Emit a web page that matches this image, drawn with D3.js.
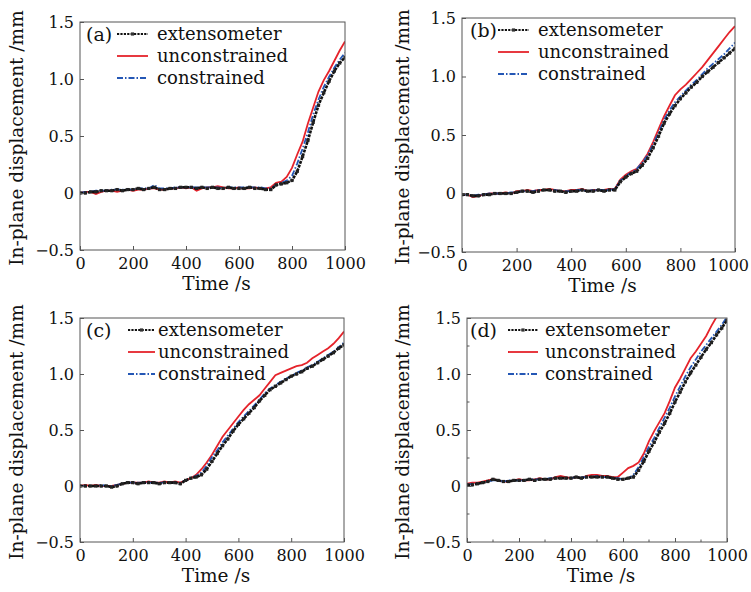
<!DOCTYPE html>
<html>
<head>
<meta charset="utf-8">
<script src="https://cdn.jsdelivr.net/npm/d3@7"></script>
<style>
  html, body { margin: 0; padding: 0; background: #fff; }
  svg text { font-family: "DejaVu Serif", serif; fill: #111; }
</style>
</head>
<body>
<svg id="fig" width="751" height="592"></svg>
<script>
// time samples (s), shared by every series
const times = [0,20,40,60,80,100,120,140,160,180,200,220,240,260,280,300,320,340,360,380,400,420,440,460,480,500,520,540,560,580,600,620,640,660,680,700,720,740,760,780,800,820,840,860,880,900,920,940,960,980,1000]

const xTicks = [0,200,400,600,800,1000]
const yTicks = [-0.5,0,0.5,1.0,1.5]
const yTickLabels = ["\u22120.5","0","0.5","1.0","1.5"]
const seriesNames = ["extensometer","unconstrained","constrained"]

// (a)
const extA = [0.00,0.00,0.01,0.01,0.02,0.02,0.02,0.03,0.02,0.03, 0.03,0.04,0.03,0.04,0.05,0.03,0.03,0.04,0.04,0.05, 0.05,0.05,0.04,0.05,0.04,0.05,0.04,0.04,0.05,0.04, 0.04,0.04,0.05,0.04,0.04,0.03,0.03,0.07,0.08,0.09, 0.11,0.19,0.32,0.46,0.62,0.77,0.88,0.98,1.07,1.14, 1.19]
const redA = [0.00,0.01,0.01,-0.01,0.01,0.02,0.02,0.01,0.02,0.03, 0.02,0.03,0.03,0.04,0.04,0.03,0.03,0.04,0.04,0.05, 0.04,0.05,0.02,0.04,0.05,0.05,0.06,0.05,0.04,0.04, 0.05,0.04,0.04,0.05,0.04,0.04,0.05,0.09,0.10,0.14, 0.22,0.34,0.45,0.61,0.75,0.89,0.99,1.07,1.16,1.25, 1.33]
const blueA = [0.00,0.01,0.01,0.02,0.02,0.02,0.03,0.03,0.03,0.03, 0.03,0.04,0.04,0.04,0.07,0.04,0.04,0.04,0.05,0.05, 0.05,0.05,0.05,0.05,0.05,0.05,0.05,0.04,0.05,0.05, 0.05,0.05,0.05,0.05,0.05,0.04,0.04,0.07,0.09,0.11, 0.15,0.26,0.39,0.53,0.69,0.82,0.93,1.02,1.10,1.17, 1.23]

// (b)
const extB = [-0.01,-0.01,-0.02,-0.02,-0.01,-0.01,0.00,0.00,0.00,0.00, 0.01,0.02,0.02,0.01,0.02,0.03,0.03,0.02,0.02,0.01, 0.02,0.02,0.03,0.02,0.02,0.03,0.02,0.03,0.03,0.10, 0.14,0.17,0.19,0.24,0.30,0.39,0.49,0.60,0.68,0.75, 0.81,0.86,0.91,0.95,1.00,1.04,1.08,1.12,1.16,1.20, 1.24]
const redB = [-0.01,-0.01,-0.03,-0.02,-0.01,0.00,0.00,0.00,0.01,0.00, 0.02,0.02,0.03,0.02,0.03,0.03,0.04,0.03,0.02,0.02, 0.03,0.03,0.04,0.02,0.03,0.03,0.03,0.04,0.04,0.12, 0.16,0.19,0.21,0.27,0.34,0.44,0.55,0.66,0.75,0.84, 0.89,0.93,0.98,1.03,1.08,1.14,1.20,1.26,1.32,1.38, 1.43]
const blueB = [-0.01,-0.01,-0.02,-0.01,-0.01,0.00,0.00,0.00,0.00,0.01, 0.01,0.02,0.02,0.02,0.03,0.03,0.03,0.03,0.02,0.02, 0.02,0.03,0.03,0.02,0.03,0.03,0.03,0.03,0.04,0.11, 0.15,0.18,0.21,0.26,0.33,0.42,0.52,0.63,0.71,0.78, 0.83,0.88,0.93,0.97,1.02,1.07,1.11,1.15,1.19,1.24, 1.29]

// (c)
const extC = [0.00,0.00,0.00,0.00,0.00,0.00,-0.01,0.00,0.02,0.03, 0.03,0.02,0.03,0.03,0.03,0.02,0.03,0.03,0.03,0.02, 0.05,0.07,0.08,0.10,0.15,0.22,0.29,0.36,0.42,0.49, 0.55,0.60,0.65,0.70,0.76,0.81,0.86,0.89,0.92,0.95, 0.98,1.00,1.02,1.05,1.07,1.10,1.13,1.16,1.19,1.23, 1.26]
const redC = [0.00,0.01,0.00,0.01,0.00,0.00,0.00,0.01,0.02,0.03, 0.03,0.03,0.03,0.04,0.03,0.03,0.04,0.03,0.04,0.03, 0.05,0.07,0.10,0.15,0.21,0.28,0.36,0.44,0.50,0.56, 0.62,0.68,0.73,0.77,0.81,0.87,0.93,0.99,1.01,1.03, 1.05,1.07,1.08,1.10,1.14,1.17,1.20,1.23,1.27,1.32, 1.38]
const blueC = [0.00,0.00,0.00,0.00,0.01,0.00,0.00,0.01,0.02,0.03, 0.03,0.03,0.03,0.03,0.03,0.03,0.03,0.03,0.03,0.03, 0.05,0.07,0.09,0.12,0.18,0.26,0.32,0.39,0.45,0.51, 0.57,0.62,0.67,0.72,0.77,0.83,0.87,0.90,0.93,0.96, 0.98,1.01,1.03,1.06,1.08,1.11,1.14,1.17,1.20,1.24, 1.28]

// (d)
const extD = [0.01,0.01,0.02,0.03,0.04,0.06,0.05,0.04,0.04,0.05, 0.05,0.05,0.06,0.05,0.06,0.06,0.06,0.07,0.07,0.07, 0.07,0.08,0.07,0.08,0.08,0.08,0.08,0.08,0.07,0.06, 0.06,0.07,0.08,0.14,0.22,0.31,0.39,0.48,0.56,0.65, 0.75,0.84,0.93,1.01,1.08,1.15,1.22,1.28,1.35,1.41, 1.48]
const redD = [0.02,0.03,0.03,0.04,0.05,0.06,0.05,0.04,0.04,0.05, 0.06,0.05,0.05,0.06,0.07,0.06,0.06,0.08,0.09,0.08, 0.07,0.08,0.07,0.09,0.10,0.10,0.09,0.09,0.08,0.08, 0.12,0.16,0.18,0.21,0.29,0.40,0.49,0.57,0.65,0.76, 0.88,0.96,1.05,1.14,1.20,1.27,1.34,1.43,1.51,1.58, 1.65]
const blueD = [0.01,0.02,0.02,0.03,0.04,0.05,0.05,0.04,0.05,0.05, 0.05,0.05,0.06,0.06,0.06,0.06,0.07,0.07,0.07,0.07, 0.07,0.08,0.08,0.08,0.08,0.09,0.08,0.08,0.07,0.07, 0.06,0.07,0.10,0.17,0.26,0.35,0.43,0.52,0.61,0.70, 0.80,0.89,0.98,1.06,1.13,1.20,1.26,1.32,1.38,1.44, 1.51]

const colors = { ext: "#111", red: "#e5232b", blue: "#2457b5" }

const panels = [
  { tag: "(a)", ext: extA, red: redA, blue: blueA, box: [80, 345, 22, 250], leg: [86, 117, 148, 157], ylx: 17, minor: false },
  { tag: "(b)", ext: extB, red: redB, blue: blueB, box: [462, 735, 18, 252], leg: [470, 498, 529, 538], ylx: 403, minor: false },
  { tag: "(c)", ext: extC, red: redC, blue: blueC, box: [80, 344, 318, 542], leg: [86, 128, 155, 158], ylx: 17, minor: false },
  { tag: "(d)", ext: extD, red: redD, blue: blueD, box: [467, 727, 318, 542], leg: [470, 508, 538, 545], ylx: 403, minor: true }
]

const svg = d3.select("#fig")
const fsTick = 16, fsLeg = 18, fsTitle = 18.5

panels.forEach((p, k) => {
  const [l, r, t, b] = p.box
  const x = d3.scaleLinear().domain([0, 1000]).range([l, r])
  const y = d3.scaleLinear().domain([-0.5, 1.5]).range([b, t])
  const g = svg.append("g")

  const clipId = "clip" + k
  g.append("clipPath").attr("id", clipId)
    .append("rect").attr("x", l).attr("y", t).attr("width", r - l).attr("height", b - t)

  const line = d3.line().x(d => x(d[0])).y(d => y(d[1]))
  const pts = arr => times.map((tt, i) => [tt, arr[i]])

  const plot = g.append("g").attr("clip-path", `url(#${clipId})`)
  plot.append("path").attr("d", line(pts(p.red)))
    .attr("fill", "none").attr("stroke", colors.red).attr("stroke-width", 1.8)
  plot.append("path").attr("d", line(pts(p.blue)))
    .attr("fill", "none").attr("stroke", colors.blue).attr("stroke-width", 1.8)
    .attr("stroke-dasharray", "6,2,1.5,2")
  plot.append("path").attr("d", line(pts(p.ext)))
    .attr("fill", "none").attr("stroke", colors.ext).attr("stroke-width", 2.6)
    .attr("stroke-dasharray", "3,1")
  plot.selectAll("rect.mk").data(pts(p.ext)).join("rect").attr("class", "mk")
    .attr("x", d => x(d[0]) - 1.6).attr("y", d => y(d[1]) - 1.6)
    .attr("width", 3.2).attr("height", 3.2).attr("fill", "#222")

  // frame
  g.append("rect").attr("x", l).attr("y", t).attr("width", r - l).attr("height", b - t)
    .attr("fill", "none").attr("stroke", "#555").attr("stroke-width", 1)

  // inward ticks on bottom and left
  const xAxis = d3.axisBottom(x).tickValues(xTicks).tickSize(-4).tickPadding(7)
    .tickSizeOuter(0).tickFormat(d3.format("d"))
  const gx = g.append("g").attr("transform", `translate(0,${b})`).call(xAxis)
  gx.select(".domain").remove()
  gx.selectAll(".tick line").attr("stroke", "#555")
  gx.selectAll(".tick text").attr("font-size", fsTick).attr("dy", "0.75em")
  // keep the last label inside the window
  gx.selectAll(".tick text").each(function () {
    const bb = this.getBBox()
    const parent = this.parentNode.transform.baseVal.consolidate().matrix.e
    const over = parent + bb.x + bb.width - 749
    if (over > 0) d3.select(this).attr("x", -over)
  })

  const yAxis = d3.axisLeft(y).tickValues(yTicks).tickSize(-4).tickPadding(6)
    .tickFormat((d, i) => yTickLabels[i])
  const gy = g.append("g").attr("transform", `translate(${l},0)`).call(yAxis)
  gy.select(".domain").remove()
  gy.selectAll(".tick line").attr("stroke", "#555")
  gy.selectAll(".tick text").attr("font-size", fsTick)

  if (p.minor) {
    g.selectAll("line.mx").data([100, 300, 500, 700, 900]).join("line").attr("class", "mx")
      .attr("x1", d => x(d)).attr("x2", d => x(d)).attr("y1", b).attr("y2", b - 2.5).attr("stroke", "#555")
    g.selectAll("line.my").data([-0.25, 0.25, 0.75, 1.25]).join("line").attr("class", "my")
      .attr("y1", d => y(d)).attr("y2", d => y(d)).attr("x1", l).attr("x2", l + 2.5).attr("stroke", "#555")
  }

  // axis titles
  g.append("text").attr("x", (l + r) / 2 + 4).attr("y", b + 40)
    .attr("text-anchor", "middle").attr("font-size", fsTitle).text("Time /s")
  g.append("text").attr("transform", `translate(${p.ylx},${(t + b) / 2 + 2}) rotate(-90)`)
    .attr("text-anchor", "middle").attr("dy", "0.35em").attr("font-size", fsTitle)
    .text("In-plane displacement /mm")

  // legend
  const [tagX, lx0, lx1, tx] = p.leg
  g.append("text").attr("x", tagX).attr("y", t + 12).attr("dy", "0.35em")
    .attr("font-size", fsLeg + 1).text(p.tag)
  const styles = [
    { c: colors.ext, dash: "2.2,1.2", w: 2.2, mk: true },
    { c: colors.red, dash: null, w: 1.8, mk: false },
    { c: colors.blue, dash: "6,2,1.5,2", w: 1.8, mk: false }
  ]
  seriesNames.forEach((name, i) => {
    const yy = t + 12 + i * 22
    const s = styles[i]
    const ln = g.append("line").attr("x1", lx0).attr("x2", lx1).attr("y1", yy).attr("y2", yy)
      .attr("stroke", s.c).attr("stroke-width", s.w)
    if (s.dash) ln.attr("stroke-dasharray", s.dash)
    if (s.mk) g.append("rect").attr("x", (lx0 + lx1) / 2 - 1.6).attr("y", yy - 1.6)
      .attr("width", 3.2).attr("height", 3.2).attr("fill", "#333")
    g.append("text").attr("x", tx).attr("y", yy).attr("dy", "0.35em").attr("font-size", fsLeg).text(name)
  })
})
</script>
</body>
</html>
